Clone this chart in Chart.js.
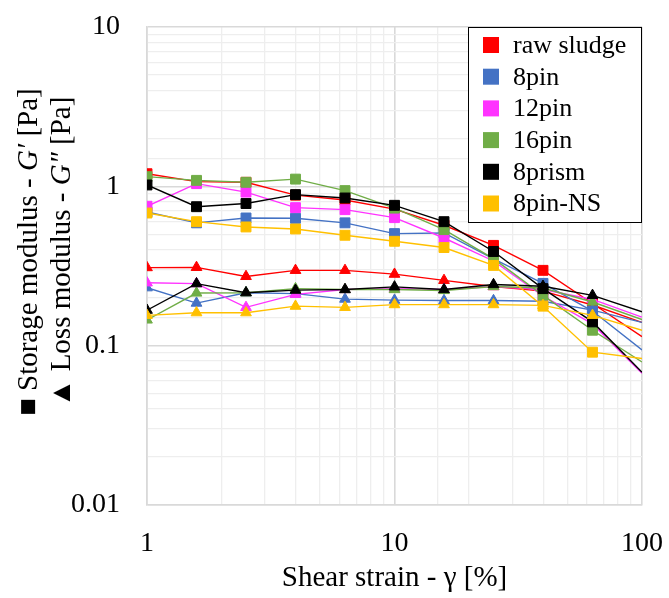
<!DOCTYPE html>
<html>
<head>
<meta charset="utf-8">
<script src="https://cdn.jsdelivr.net/npm/chart.js@4/dist/chart.umd.min.js"></script>
<style>
  html, body { margin: 0; padding: 0; background: #ffffff; }
  #wrap { width: 669px; height: 598px; }
</style>
</head>
<body>
<div id="wrap"><canvas id="c" width="669" height="598"></canvas></div>
<script>
// Shear strain sweep, γ [%]
const strain = [1, 1.585, 2.512, 3.981, 6.310, 10, 15.85, 25.12, 39.81, 63.10, 100];

const samples = ['raw sludge', '8pin', '12pin', '16pin', '8prism', '8pin-NS'];
const sampleColors = ['#FF0000', '#4472C4', '#FF33FF', '#70AD47', '#000000', '#FFC000'];

// Storage modulus G' [Pa]
const storageRaw    = [1.20, 1.07, 1.06, 0.88, 0.82, 0.72, 0.57, 0.426, 0.297, 0.184, 0.114];
const storage8pin   = [0.69, 0.59, 0.633, 0.63, 0.59, 0.505, 0.51, 0.35, 0.246, 0.165, 0.094];
const storage12pin  = [0.75, 1.04, 0.92, 0.735, 0.714, 0.636, 0.474, 0.34, 0.205, 0.137, 0.067];
const storage16pin  = [1.15, 1.09, 1.06, 1.11, 0.94, 0.73, 0.535, 0.352, 0.207, 0.125, 0.079];
const storage8prism = [1.02, 0.745, 0.78, 0.887, 0.845, 0.76, 0.60, 0.39, 0.228, 0.141, 0.068];
const storage8pinNS = [0.68, 0.60, 0.556, 0.54, 0.493, 0.452, 0.413, 0.319, 0.177, 0.091, 0.083];

// Loss modulus G'' [Pa]
const lossRaw    = [0.309, 0.310, 0.272, 0.297, 0.297, 0.281, 0.257, 0.235, 0.220, 0.180, 0.140];
const loss8pin   = [0.231, 0.185, 0.215, 0.212, 0.196, 0.193, 0.192, 0.192, 0.190, 0.167, 0.140];
const loss12pin  = [0.248, 0.245, 0.174, 0.210, 0.225, 0.228, 0.225, 0.235, 0.225, 0.195, 0.151];
const loss16pin  = [0.145, 0.214, 0.215, 0.228, 0.225, 0.225, 0.222, 0.235, 0.230, 0.188, 0.146];
const loss8prism = [0.167, 0.245, 0.215, 0.223, 0.225, 0.234, 0.225, 0.242, 0.236, 0.207, 0.163];
const loss8pinNS = [0.155, 0.161, 0.161, 0.177, 0.174, 0.181, 0.181, 0.181, 0.179, 0.155, 0.125];

const storageSeries = [storageRaw, storage8pin, storage12pin, storage16pin, storage8prism, storage8pinNS];
const lossSeries    = [lossRaw, loss8pin, loss12pin, loss16pin, loss8prism, loss8pinNS];

const xTickValues = [1, 10, 100];
const yTickValues = [0.01, 0.1, 1, 10];

const SERIF = '"Liberation Serif", "Times New Roman", serif';
const lastIdx = strain.length - 1;

function toPoints(values) {
  return strain.map((x, i) => ({ x: x, y: values[i] }));
}

// one G' (square) and one G'' (triangle) series per sample; later samples sit on top
const datasets = [];
let n = 0;
samples.forEach((name, i) => {
  [['rect', storageSeries[i], 7, " G'"], ['triangle', lossSeries[i], 6.2, " G''"]].forEach(([style, vals, r, tag]) => {
    datasets.push({
      label: name + tag,
      data: toPoints(vals),
      borderColor: sampleColors[i],
      backgroundColor: sampleColors[i],
      borderWidth: 1.4,
      pointStyle: style,
      pointRadius: ctx => (ctx.dataIndex === lastIdx ? 0 : r),
      pointHoverRadius: ctx => (ctx.dataIndex === lastIdx ? 0 : r),
      pointBorderWidth: 1,
      tension: 0,
      order: 100 - n
    });
    n++;
  });
});

function isDecade(v) {
  const l = Math.log10(v);
  return Math.abs(l - Math.round(l)) < 1e-6;
}

const gridColor = ctx => (ctx.tick && isDecade(ctx.tick.value) ? '#d9d9d9' : '#eeeeee');
const gridWidth = ctx => (ctx.tick && isDecade(ctx.tick.value) ? 1.6 : 1.3);

// text annotations: axis titles and the sample key
const annotations = {
  id: 'annotations',
  afterDraw(chart) {
    const ctx = chart.ctx;
    const area = chart.chartArea;
    ctx.save();
    ctx.fillStyle = '#000';
    ctx.textBaseline = 'middle';

    // x axis title
    ctx.font = '29px ' + SERIF;
    ctx.textAlign = 'center';
    ctx.fillText('Shear strain - γ [%]', (area.left + area.right) / 2, 578);

    // rotated y axis title, two lines with italic symbols
    const drawRotated = (cx, cy, parts) => {
      ctx.save();
      ctx.translate(cx, cy);
      ctx.rotate(-Math.PI / 2);
      ctx.textAlign = 'left';
      let total = 0;
      parts.forEach(p => { ctx.font = p.f; total += ctx.measureText(p.t).width; });
      let x = -total / 2;
      parts.forEach(p => {
        ctx.font = p.f;
        ctx.fillText(p.t, x, 0);
        x += ctx.measureText(p.t).width;
      });
      ctx.restore();
    };
    const normal = '29px ' + SERIF;
    const italic = 'italic 29px ' + SERIF;
    drawRotated(29, 252, [
      { t: '\u25A0 Storage modulus - ', f: normal },
      { t: 'G\u2032', f: italic },
      { t: ' [Pa]', f: normal }
    ]);
    drawRotated(62, 252, [
      { t: '\u25B2 Loss modulus - ', f: normal },
      { t: 'G\u2033', f: italic },
      { t: ' [Pa]', f: normal }
    ]);

    // sample key
    const bx = 468, by = 27, bw = 173, bh = 195;
    ctx.fillStyle = '#ffffff';
    ctx.fillRect(bx, by, bw, bh);
    ctx.strokeStyle = '#000000';
    ctx.lineWidth = 1;
    ctx.strokeRect(bx + 0.5, by + 0.5, bw, bh);
    ctx.font = '26px ' + SERIF;
    ctx.textAlign = 'left';
    samples.forEach((name, i) => {
      const cy = by + 18 + i * 31.7;
      ctx.fillStyle = sampleColors[i];
      ctx.fillRect(bx + 15, cy - 8, 16, 16);
      ctx.fillStyle = '#000';
      ctx.fillText(name, bx + 45, cy + 1);
    });
    ctx.restore();
  }
};

new Chart(document.getElementById('c'), {
  type: 'line',
  data: { datasets: datasets },
  options: {
    responsive: false,
    animation: false,
    devicePixelRatio: 1,
    layout: { padding: { top: 27, right: 27, left: 0, bottom: 0 } },
    plugins: {
      legend: { display: false },
      tooltip: { enabled: false }
    },
    scales: {
      x: {
        type: 'logarithmic',
        min: 1,
        max: 100,
        afterFit: s => { s.height = 93; },
        grid: { color: gridColor, lineWidth: gridWidth, drawTicks: true, tickLength: 22, tickColor: 'rgba(0,0,0,0)' },
        border: { display: true, color: '#d9d9d9', width: 1.6 },
        ticks: {
          autoSkip: false,
          maxRotation: 0,
          padding: 0,
          color: '#000',
          font: { family: SERIF, size: 28 },
          callback: v => (xTickValues.some(t => Math.abs(t - v) < 1e-9) ? String(v) : '')
        }
      },
      y: {
        type: 'logarithmic',
        min: 0.01,
        max: 10,
        afterFit: s => { s.width = 147; },
        grid: { color: gridColor, lineWidth: gridWidth, drawTicks: true, tickLength: 27, tickColor: 'rgba(0,0,0,0)' },
        border: { display: true, color: '#d9d9d9', width: 1.6 },
        ticks: {
          autoSkip: false,
          padding: 0,
          color: '#000',
          font: { family: SERIF, size: 28 },
          callback: v => (yTickValues.some(t => Math.abs(t - v) / t < 1e-6) ? String(v) : '')
        }
      }
    }
  },
  plugins: [annotations]
});
</script>
</body>
</html>
